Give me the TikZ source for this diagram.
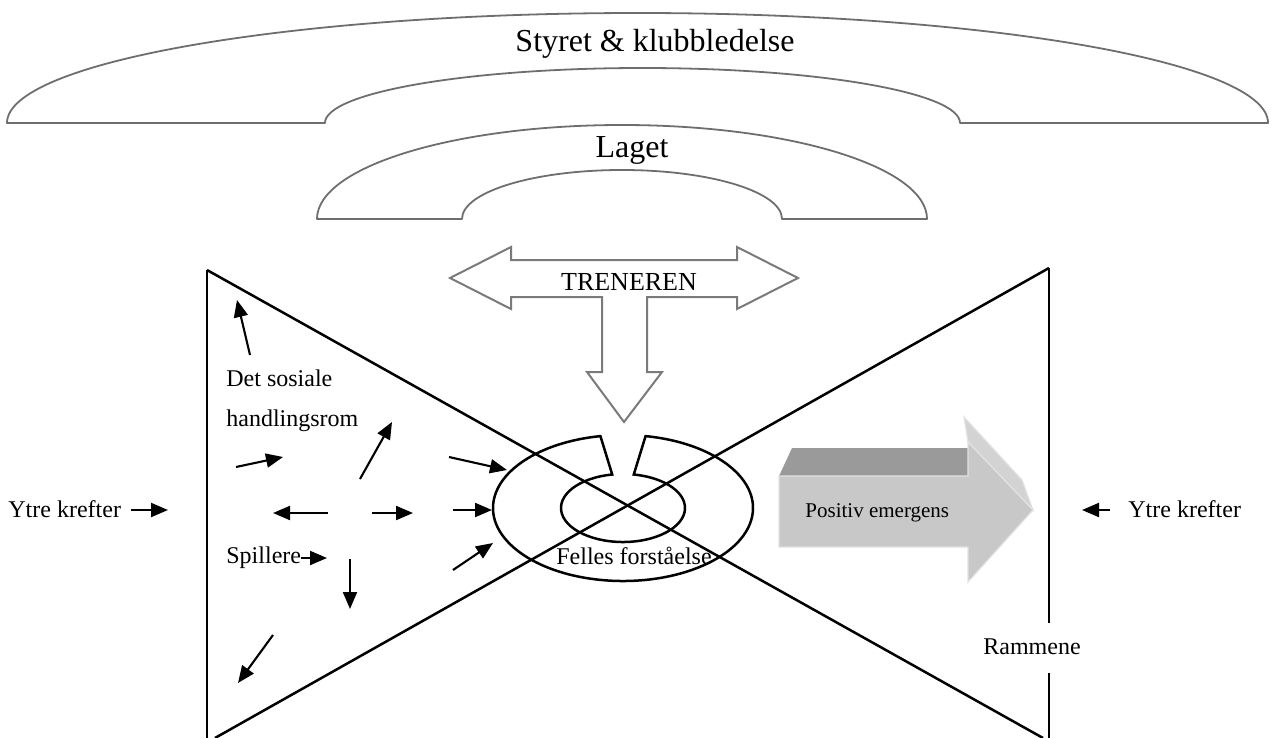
\documentclass[tikz,border=0pt]{standalone}
\usepackage{fontspec}
\setmainfont{Liberation Serif}
\usetikzlibrary{arrows.meta,calc}
\definecolor{archgray}{HTML}{6E6E6E}
\definecolor{tgray}{HTML}{7A7A7A}
\definecolor{frontgray}{HTML}{C8C8C8}
\definecolor{topgray}{HTML}{9A9A9A}
\definecolor{sidegray}{HTML}{D3D3D3}
\definecolor{edgegray}{HTML}{E2E2E2}
\tikzset{
  archline/.style={draw=archgray, line width=0.9pt, line join=round},
  tarrow/.style={draw=tgray, fill=white, line width=1pt, line join=miter},
  blk/.style={line width=1.25pt},
  arr/.style={line width=1.05pt, -{Triangle[length=8.5pt,width=7pt]}},
  lbl/.style={font=\fontsize{12}{14}\selectfont, inner sep=0pt},
  biglbl/.style={font=\fontsize{16}{19}\selectfont, inner sep=0pt},
}
\begin{document}
\begin{tikzpicture}[x=0.5pt,y=-0.5pt]
\useasboundingbox (0,0) rectangle (1273,738);

% --- Styret & klubbledelse arch
\draw[archline] (7,123) arc[start angle=180,end angle=360,x radius=630.5,y radius=110]
  -- (960,123) arc[start angle=0,end angle=-180,x radius=317.5,y radius=55] -- cycle;
\node[biglbl,anchor=base] (styret) at (655,52) {Styret \& klubbledelse};

% --- Laget arch
\draw[archline] (317,219) arc[start angle=180,end angle=360,x radius=305,y radius=94]
  -- (782,219) arc[start angle=0,end angle=-180,x radius=160,y radius=49] -- cycle;
\node[biglbl,anchor=base] (laget) at (632,157) {Laget};

% --- TRENEREN arrow
\draw[tarrow] (450,278) -- (511,247) -- (511,260) -- (737,260) -- (737,247) -- (798,278)
  -- (737,309) -- (737,297) -- (647,297) -- (647,372) -- (662,372) -- (624,422)
  -- (587,372) -- (602,372) -- (602,297) -- (511,297) -- (511,309) -- cycle;
\node[font=\fontsize{13}{15}\selectfont,inner sep=0pt,anchor=base] (trener) at (629,290) {TRENEREN};

% --- bow tie frame
\draw[blk] (207,270) -- (207,738);
\draw[blk] (1049,268) -- (1049,623);
\draw[blk] (1049,673) -- (1049,738);
\draw[blk] (207,270) -- (1043,738);
\draw[blk] (1049,268) -- (215,738);
\node[lbl,anchor=base] (rammene) at (1032,654) {Rammene};

% --- ring
\coordinate (rc) at (623,508);
\draw[blk,line join=miter] ($(rc)+(280:130 and 73)$)
  arc[start angle=280,end angle=620,x radius=130,y radius=73]
  -- ($(rc)+(260:62 and 34)$)
  arc[start angle=260,end angle=-80,x radius=62,y radius=34] -- cycle;
\node[lbl,anchor=base] (felles) at (634,564) {Felles forståelse};

% --- Positiv emergens 3D arrow
\fill[topgray] (779,476) -- (792,448) -- (968,448) -- (968,476) -- cycle;
\filldraw[fill=sidegray,draw=edgegray,line width=0.6pt] (964,417) -- (1022,480) -- (1033,510) -- (968,442) -- cycle;
\filldraw[fill=frontgray,draw=edgegray,line width=0.6pt] (779,476) -- (968,476) -- (968,442) -- (1033,510)
  -- (968,582) -- (968,547) -- (779,547) -- cycle;
\node[font=\fontsize{10.5}{12}\selectfont,inner sep=0pt,anchor=base west] (emerg) at (805,517) {Positiv emergens};

% --- labels left
\node[lbl,anchor=base west] (sos1) at (226,386) {Det sosiale};
\node[lbl,anchor=base west] (sos2) at (226,426) {handlingsrom};
\node[lbl,anchor=base west] (spill) at (226,563) {Spillere};
\node[lbl,anchor=base west] (ytreL) at (8,517) {Ytre krefter};
\node[lbl,anchor=base west] (ytreR) at (1128,517) {Ytre krefter};

% --- small arrows
\draw[arr] (250,355) -- (237,300);
\draw[arr] (236,467) -- (283,457);
\draw[arr] (360,479) -- (392,422);
\draw[arr] (449,457) -- (507,470);
\draw[arr] (328,513) -- (273,513);
\draw[arr] (372,513) -- (413,513);
\draw[arr] (453,510) -- (492,510);
\coordinate (spillTip) at (327,558);
\draw[arr] (spill.east |- spillTip) -- (spillTip);
\draw[arr] (350,559) -- (350,609);
\draw[arr] (453,570) -- (493,543);
\draw[arr] (273,635) -- (238,683);
\coordinate (ytreLTip) at (168,510);
\draw[arr] ([xshift=5pt]ytreL.east |- ytreLTip) -- (ytreLTip);
\coordinate (ytreRTip) at (1082,510);
\draw[arr] ([xshift=-9pt]ytreR.west |- ytreRTip) -- (ytreRTip);
\end{tikzpicture}
\end{document}
